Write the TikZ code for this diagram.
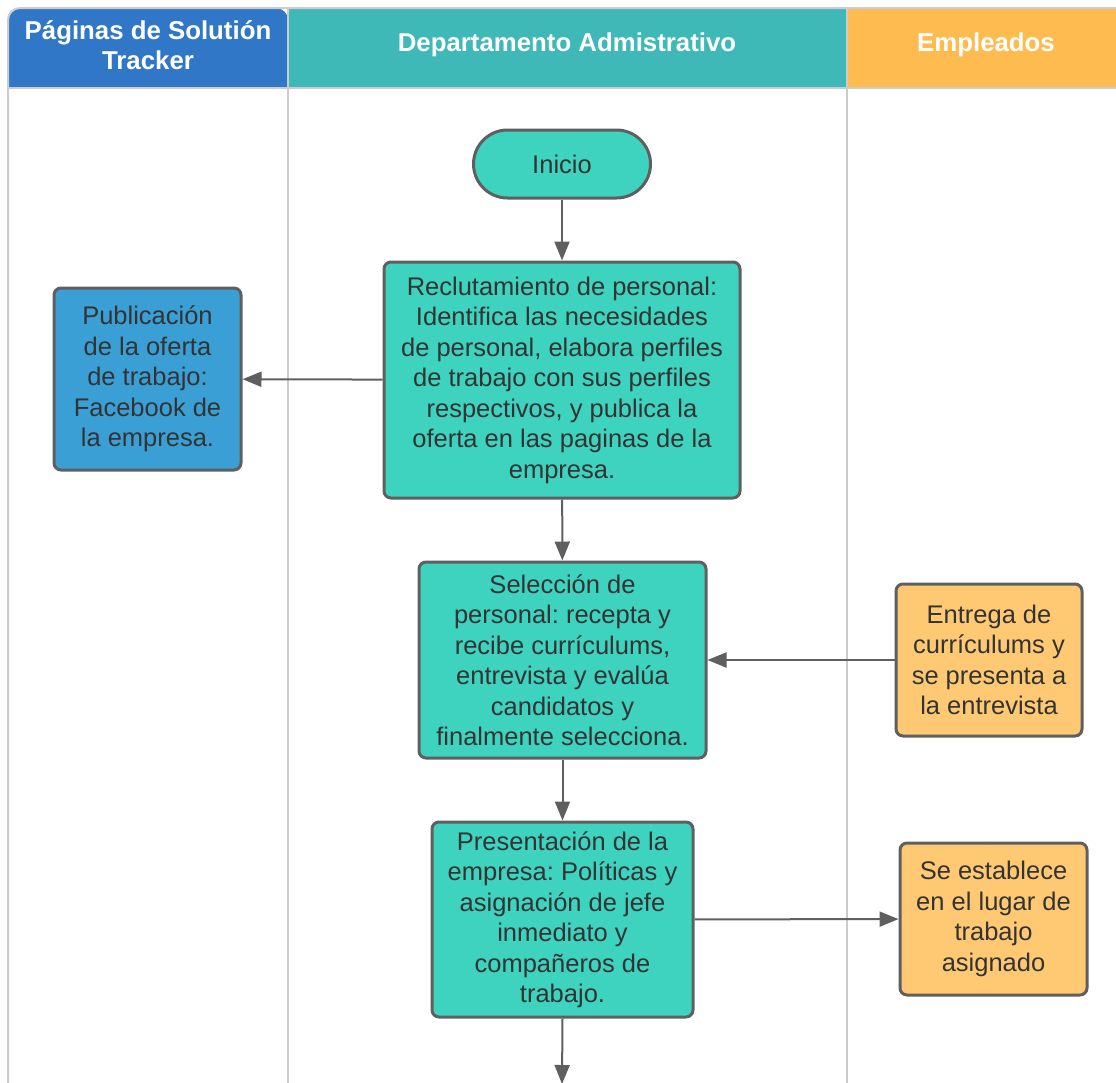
\documentclass[tikz,border=0pt]{standalone}
\usepackage{fontspec}
\setmainfont{Liberation Sans}
\frenchspacing
\usetikzlibrary{arrows.meta}
\definecolor{hdrblue}{HTML}{3177C8}
\definecolor{hdrteal}{HTML}{3FB8B8}
\definecolor{hdrorange}{HTML}{FEBB50}
\definecolor{gridgrey}{HTML}{CCCCCC}
\definecolor{boxteal}{HTML}{3DD3BE}
\definecolor{boxblue}{HTML}{3A9FD5}
\definecolor{boxorange}{HTML}{FFC973}
\definecolor{edgegrey}{HTML}{5F5F5F}
\definecolor{txtgrey}{HTML}{333333}
\tikzset{
  hdr/.style={text=white, font=\fontsize{25.8}{30}\selectfont\bfseries, align=center},
  proc/.style={draw=edgegrey, line width=3pt, rounded corners=7pt, text=txtgrey,
    font=\fontsize{25.5}{30.5}\selectfont, align=center, inner sep=0pt, anchor=center},
  flow/.style={draw=edgegrey, line width=2pt, -{Triangle[length=19pt,width=15pt]}},
}
\begin{document}
\begin{tikzpicture}[x=1pt,y=-1pt]
\useasboundingbox (0,0) rectangle (1116,1082);
\clip (0,0) rectangle (1116,1082);

% lane headers
\fill[hdrblue, rounded corners=12pt] (8,88) -- (8,8) -- (288,8) [sharp corners] -- (288,88) -- cycle;
\fill[hdrteal] (288,8) rectangle (847,88);
\fill[hdrorange] (847,8) rectangle (1120,88);
\node[hdr] (h1) at (148,45) {Páginas de Solutión\\Tracker};
\node[hdr] (h2) at (567,45) {Departamento Admistrativo};
\node[hdr] (h3) at (986,45) {Empleados};

% lane grid
\draw[gridgrey, line width=2pt, rounded corners=12pt] (8,1090) -- (8,8) -- (1120,8);
\draw[gridgrey, line width=2pt] (8,88) -- (1120,88);
\draw[gridgrey, line width=2pt] (288,8) -- (288,1090);
\draw[gridgrey, line width=2pt] (847,8) -- (847,1090);

% process boxes
\node[proc, fill=boxteal, rounded corners=34pt, minimum width=177pt, minimum height=68pt] (inicio) at (562,164) {Inicio};
\node[proc, fill=boxteal, minimum width=356pt, minimum height=236pt] (reclu) at (562,380)
  {Reclutamiento de personal:\\Identifica las necesidades\\de personal, elabora perfiles\\de trabajo con sus perfiles\\respectivos, y publica la\\oferta en las paginas de la\\empresa.};
\node[proc, fill=boxblue, minimum width=187pt, minimum height=182pt] (publi) at (147.5,379)
  {Publicación\\de la oferta\\de trabajo:\\Facebook de\\la empresa.};
\node[proc, fill=boxteal, minimum width=287pt, minimum height=196pt] (selec) at (562.5,660)
  {Selección de\\personal: recepta y\\recibe currículums,\\entrevista y evalúa\\candidatos y\\finalmente selecciona.};
\node[proc, fill=boxorange, minimum width=186pt, minimum height=152pt] (entrega) at (989,660)
  {Entrega de\\currículums y\\se presenta a\\la entrevista};
\node[proc, fill=boxteal, minimum width=261pt, minimum height=195pt] (present) at (562.5,919.5)
  {Presentación de la\\empresa: Políticas y\\asignación de jefe\\inmediato y\\compañeros de\\trabajo.};
\node[proc, fill=boxorange, minimum width=187pt, minimum height=152pt] (establece) at (993.5,919)
  {Se establece\\en el lugar de\\trabajo\\asignado};
\coordinate (next) at (562,1084);

% connectors
\draw[flow] (inicio) -- (reclu);
\draw[flow] (reclu) -- (publi);
\draw[flow] (reclu) -- (selec);
\draw[flow] (entrega) -- (selec);
\draw[flow] (selec) -- (present);
\draw[flow] (present) -- (establece);
\draw[flow] (present.south) -- (next);
\end{tikzpicture}
\end{document}
